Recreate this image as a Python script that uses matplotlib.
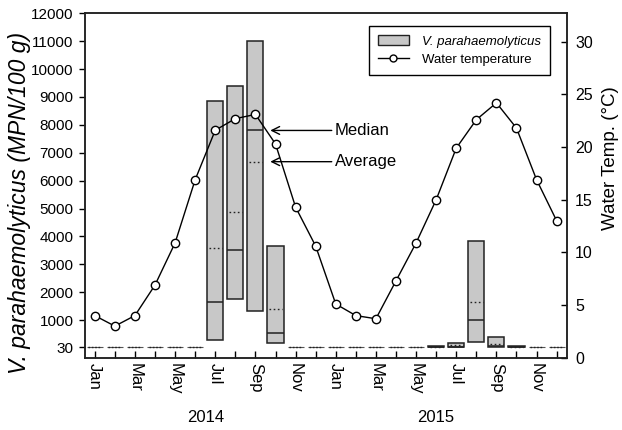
import matplotlib
matplotlib.use("Agg")
import matplotlib.pyplot as plt
import numpy as np
from matplotlib.patches import Patch
from matplotlib.lines import Line2D

plt.rcParams['font.family'] = ['Liberation Sans', 'DejaVu Sans']

# ---- data ----
months = ["Jan", "Feb", "Mar", "Apr", "May", "Jun", "Jul", "Aug", "Sep", "Oct", "Nov", "Dec"] * 2
years = ["2014", "2015"]
temperature = [4.0, 3.0, 4.0, 6.9, 10.9, 16.9, 21.6, 22.7, 23.1, 20.3, 14.3, 10.6,
               5.1, 4.0, 3.7, 7.3, 10.9, 15.0, 19.9, 22.6, 24.2, 21.8, 16.9, 13.0]
vp_low = [30, 30, 30, 30, 30, 30, 300, 1750, 1320, 160, 30, 30,
          30, 30, 30, 30, 30, 30, 40, 210, 40, 30, 30, 30]
vp_high = [30, 30, 30, 30, 30, 30, 8870, 9400, 11000, 3650, 30, 30,
           30, 30, 30, 30, 30, 70, 170, 3850, 380, 60, 30, 30]
vp_median = [30, 30, 30, 30, 30, 30, 1660, 3530, 7800, 530, 30, 30,
             30, 30, 30, 30, 30, 30, 40, 1000, 60, 30, 30, 30]
vp_mean = [30, 30, 30, 30, 30, 30, 3600, 4880, 6680, 1410, 30, 30,
           30, 30, 30, 30, 30, 45, 100, 1660, 150, 45, 30, 30]
left_ticks = [30, 1000, 2000, 3000, 4000, 5000, 6000, 7000, 8000, 9000, 10000, 11000, 12000]
right_ticks = [0, 5, 10, 15, 20, 25, 30]

x = np.arange(len(months))
w = 0.8
box_face = "#c8c8c8"
edge = "#222222"

fig = plt.figure(figsize=(6.22, 4.30), dpi=100)
ax = fig.add_axes([0.1362, 0.1681, 0.9111 - 0.1362, 0.969 - 0.1681])
ax2 = ax.twinx()
ax.set_zorder(2)
ax.patch.set_visible(False)
ax2.set_zorder(3)
ax2.patch.set_visible(False)

lo = np.array(vp_low, float)
hi = np.array(vp_high, float)
h = hi - lo
mask = h > 0
ax.bar(x[mask], h[mask], bottom=lo[mask], width=w, color=box_face,
       edgecolor=edge, linewidth=1.1, zorder=2)
# median lines (solid) and means (dotted)
for xi, m, a, hh in zip(x, vp_median, vp_mean, h):
    if hh > 0:
        ax.hlines(m, xi - w / 2, xi + w / 2, colors=edge, linewidth=1.1, zorder=3)
        ax.hlines(a, xi - w / 2 + 0.08, xi + w / 2 - 0.08, colors=edge,
                  linewidth=1.0, linestyles=(0, (1.2, 1.8)), zorder=3)
    else:
        ax.hlines(m, xi - w / 2, xi + w / 2, colors="#555555", linewidth=0.8, zorder=3)
        ax.hlines(a, xi - w / 2 + 0.08, xi + w / 2 - 0.08, colors="#222222",
                  linewidth=1.0, linestyles=(0, (1.2, 1.2)), zorder=3)

ax.set_xlim(-0.5, 23.5)
ax.set_ylim(-350, 12000)
ax.set_yticks(left_ticks)
ax.set_yticklabels([str(t) for t in left_ticks], fontsize=11)
ax.tick_params(axis='y', direction='out', length=4.5, width=1)
ax.set_xticks(x)
ax.set_xticklabels([m if i % 2 == 0 else "" for i, m in enumerate(months)],
                   rotation=-90, fontsize=12)
ax.tick_params(axis='x', direction='in', length=5, width=1, pad=4)

ax2.plot(x, temperature, color="black", linewidth=1.0, marker="o", markersize=6,
         markerfacecolor="white", markeredgecolor="black", markeredgewidth=1.0, zorder=4)
ax2.set_ylim(0, 32.7)
ax2.set_yticks(right_ticks)
ax2.set_yticklabels([str(t) for t in right_ticks], fontsize=11.5)
ax2.tick_params(axis='y', direction='in', length=4, width=1, pad=6)
for a_ in (ax, ax2):
    for s in a_.spines.values():
        s.set_linewidth(1.1)
        s.set_color("#222222")

# axis labels
fig.text(0.032, 0.528, "V. parahaemolyticus (MPN/100 g)", rotation=90, fontsize=16.5,
         ha="center", va="center", style="italic")
fig.text(0.982, 0.632, "Water Temp. (°C)", rotation=90, fontsize=13.5, ha="center", va="center")

# year labels
ax.text(5.5, -0.175, years[0], transform=ax.get_xaxis_transform(), ha="center",
        va="center", fontsize=12)
ax.text(17.0, -0.175, years[1], transform=ax.get_xaxis_transform(), ha="center",
        va="center", fontsize=12)

# annotations
for val, label in ((vp_median[8], "Median"), (vp_mean[8], "Average")):
    ax.annotate("", xy=(8.74, val), xytext=(11.8, val),
                arrowprops=dict(arrowstyle="->", color="black", lw=1.0,
                                shrinkA=0, shrinkB=0, mutation_scale=14), zorder=5)
    ax.text(11.95, val, label, fontsize=12, va="center", ha="left")

# legend
handles = [Patch(facecolor=box_face, edgecolor=edge, linewidth=1.0),
           Line2D([0], [0], color="black", lw=1.0, marker="o", markersize=5,
                  markerfacecolor="white", markeredgecolor="black")]
leg = ax2.legend(handles, ["V. parahaemolyticus", "Water temperature"],
                 loc="upper right", bbox_to_anchor=(0.9653, 0.963), fontsize=9.5,
                 frameon=True, fancybox=False, edgecolor="black", framealpha=1,
                 handlelength=2.3, borderpad=0.7, labelspacing=0.45, handletextpad=1.0,
                 borderaxespad=0.0)
leg.get_frame().set_linewidth(1.0)
leg.get_texts()[0].set_style("italic")

fig.savefig("out.png", dpi=100)
